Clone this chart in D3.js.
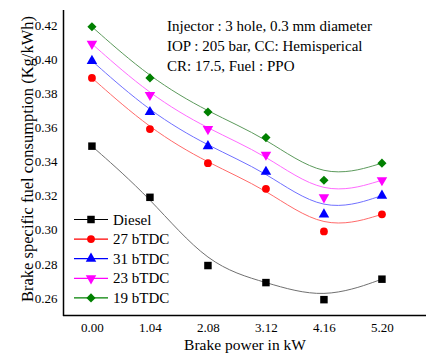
<!DOCTYPE html>
<html><head><meta charset="utf-8">
<script src="https://cdn.jsdelivr.net/npm/d3@7"></script>
<style>body{margin:0;background:#fff}svg{display:block}text{font-family:"Liberation Serif","Times New Roman",serif;fill:#000}</style>
</head><body><svg id="c" width="439" height="364"></svg>
<script>
const power = [0.00, 1.04, 2.08, 3.12, 4.16, 5.20];
const tickLabels = ["0.00","1.04","2.08","3.12","4.16","5.20"];
const yTicks = [0.26,0.28,0.30,0.32,0.34,0.36,0.38,0.40,0.42];
const seriesNames = ["Diesel","27 bTDC","31 bTDC","23 bTDC","19 bTDC"];
const diesel = [0.349, 0.319, 0.279, 0.269, 0.259, 0.271];
const bTDC27 = [0.389, 0.359, 0.339, 0.324, 0.299, 0.309];
const bTDC31 = [0.399, 0.369, 0.349, 0.334, 0.309, 0.320];
const bTDC23 = [0.409, 0.379, 0.359, 0.344, 0.319, 0.329];
const bTDC19 = [0.419, 0.389, 0.369, 0.354, 0.329, 0.339];
const notes = ["Injector : 3 hole, 0.3 mm diameter","IOP : 205 bar, CC: Hemisperical","CR: 17.5, Fuel : PPO"];

const colors = ["#000000","#ff0000","#0000ff","#ff00ff","#008000"];
const lineColors = ["#707070","#ff6a6a","#7070ff","#ff6aff","#5c9a5c"];
const shapes = [d3.symbolSquare, d3.symbolCircle, d3.symbolTriangle, d3.symbolTriangle, d3.symbolSquare];
const sizes = [56, 48, 48, 48, 42];
const rot = [0,0,0,180,45];
const allSeries = [diesel,bTDC27,bTDC31,bTDC23,bTDC19];

const svg = d3.select("#c");
const x = d3.scaleLinear().domain([-0.51, 5.99]).range([63.5, 426]);
const y = d3.scaleLinear().domain([0.25, 0.43]).range([315, 8]);

// axes
const ya = svg.append("g").attr("transform","translate(63.5,0)")
  .call(d3.axisLeft(y).tickValues(yTicks).tickFormat(d3.format(".2f")).tickSize(0).tickPadding(6));
ya.select(".domain").remove();
ya.selectAll("text").style("font-size","13px").style("font-family","Liberation Serif");
const xa = svg.append("g").attr("transform","translate(0,315.5)")
  .call(d3.axisBottom(x).tickValues(power).tickFormat((d,i)=>tickLabels[i]).tickSize(0).tickPadding(7.5));
xa.select(".domain").remove();
xa.selectAll("text").style("font-size","13px").style("font-family","Liberation Serif");
svg.append("line").attr("x1",63.5).attr("x2",63.5).attr("y1",10).attr("y2",316).attr("stroke","#000").attr("stroke-width",1.5);
svg.append("line").attr("x1",63).attr("x2",426).attr("y1",315.5).attr("y2",315.5).attr("stroke","#000").attr("stroke-width",1.5);

// titles
svg.append("text").attr("transform","translate(33,159) rotate(-90)").attr("text-anchor","middle")
  .style("font-size","16.5px").text("Brake specific fuel consumption (Kg/kWh)");
svg.append("text").attr("x",245).attr("y",349.5).attr("text-anchor","middle")
  .style("font-size","15.5px").text("Brake power in kW");

// curves
const line = d3.line().x((d,i)=>x(power[i])).y(d=>y(d)).curve(d3.curveBasis);
allSeries.forEach((s,k)=>{
  svg.append("path").attr("d",line(s)).attr("fill","none").attr("stroke",lineColors[k]).attr("stroke-width",1);
});
allSeries.forEach((s,k)=>{
  svg.append("g").selectAll("path").data(s).join("path")
    .attr("d",d3.symbol().type(shapes[k]).size(sizes[k]))
    .attr("transform",(d,i)=>`translate(${x(power[i])},${y(d)}) rotate(${rot[k]})`)
    .attr("fill",colors[k]);
});

// notes
notes.forEach((t,i)=>{
  svg.append("text").attr("x",167).attr("y",31+i*20).style("font-size","15px").text(t);
});

// legend
const lg = svg.append("g");
seriesNames.forEach((n,k)=>{
  const yy = 219.5 + k*19.6;
  lg.append("line").attr("x1",74).attr("x2",108).attr("y1",yy).attr("y2",yy).attr("stroke",colors[k]).attr("stroke-width",1.2);
  lg.append("path").attr("d",d3.symbol().type(shapes[k]).size(sizes[k])).attr("transform",`translate(91,${yy}) rotate(${rot[k]})`).attr("fill",colors[k]);
  lg.append("text").attr("x",113).attr("y",yy+5).style("font-size","15px").text(n);
});
</script></body></html>
